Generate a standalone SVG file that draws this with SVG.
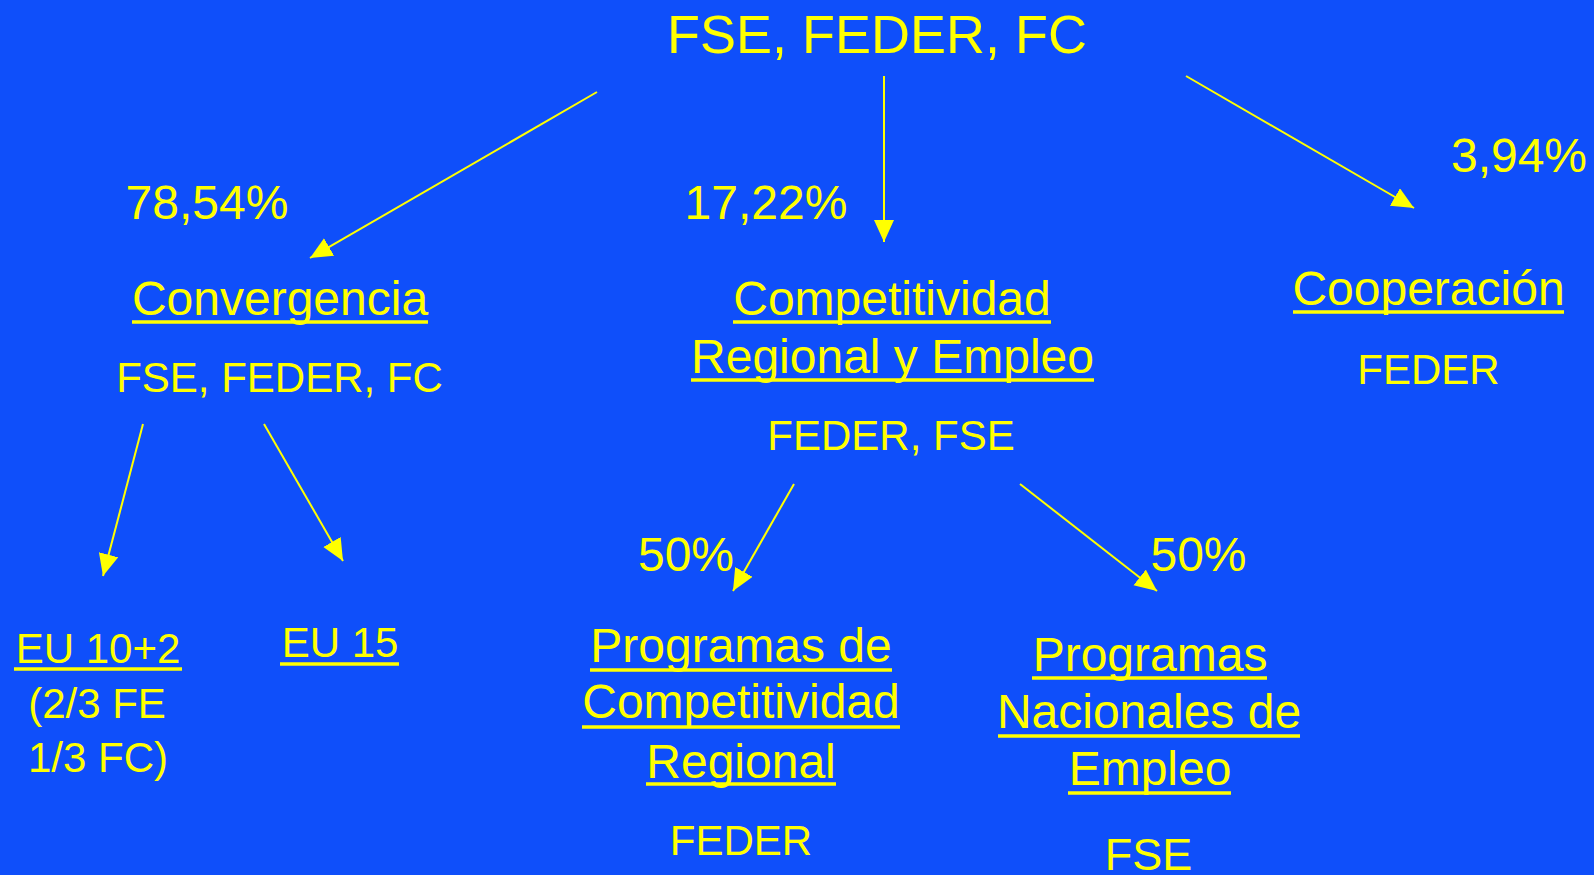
<svg xmlns="http://www.w3.org/2000/svg" width="1594" height="875" viewBox="0 0 1594 875">
<style>
text{font-family:"Liberation Sans",Arial,sans-serif;fill:#ffff00;text-anchor:middle}
.t{font-size:54px}
.h{font-size:48px}
.s{font-size:42px}
.u{stroke:#ffff00;stroke-width:3.5}
.c{stroke:#ffff00;stroke-width:2;fill:none;marker-end:url(#ah)}
</style>
<defs>
<marker id="ah" markerUnits="userSpaceOnUse" markerWidth="24" markerHeight="22" refX="22" refY="10" orient="auto">
<path d="M0,0 L22,10 L0,20 Z" fill="#ffff00"/>
</marker>
</defs>
<rect width="1594" height="875" fill="#0f4ffa"/>
<g id="connectors">
<line class="c" x1="597" y1="92" x2="310" y2="258"/>
<line class="c" x1="884" y1="76" x2="884" y2="242"/>
<line class="c" x1="1186" y1="76" x2="1414" y2="208"/>
<line class="c" x1="143" y1="424" x2="103" y2="576"/>
<line class="c" x1="264" y1="424" x2="343" y2="561"/>
<line class="c" x1="794" y1="484" x2="733" y2="591"/>
<line class="c" x1="1020" y1="484" x2="1157" y2="591"/>
</g>
<g id="root"><text class="t" x="877" y="53">FSE, FEDER, FC</text></g>
<g id="pct-conv"><text class="h" x="207" y="219">78,54%</text></g>
<g id="pct-comp"><text class="h" x="766" y="219">17,22%</text></g>
<g id="pct-coop"><text class="h" x="1519" y="172">3,94%</text></g>
<g id="convergencia">
<text class="h" x="280" y="315">Convergencia</text>
<line class="u" x1="132" y1="322" x2="428" y2="322"/>
<text class="s" x="279.5" y="392">FSE, FEDER, FC</text>
</g>
<g id="competitividad">
<text class="h" x="892" y="315">Competitividad</text>
<line class="u" x1="733" y1="322" x2="1051" y2="322"/>
<text class="h" x="892.5" y="373">Regional y Empleo</text>
<line class="u" x1="691" y1="380" x2="1094" y2="380"/>
<text class="s" x="891" y="450">FEDER, FSE</text>
</g>
<g id="cooperacion">
<text class="h" x="1428.5" y="305">Cooperación</text>
<line class="u" x1="1293" y1="312" x2="1564" y2="312"/>
<text class="s" x="1428.5" y="384">FEDER</text>
</g>
<g id="eu12">
<text class="s" x="98" y="663">EU 10+2</text>
<line class="u" x1="14" y1="669" x2="182" y2="669"/>
<text class="s" x="97" y="718">(2/3 FE</text>
<text class="s" x="98" y="772">1/3 FC)</text>
</g>
<g id="eu15">
<text class="s" x="340" y="657">EU 15</text>
<line class="u" x1="280" y1="664" x2="399" y2="664"/>
</g>
<g id="pct-50a"><text class="h" x="686" y="571">50%</text></g>
<g id="pct-50b"><text class="h" x="1198.5" y="571">50%</text></g>
<g id="prog-comp">
<text class="h" x="741" y="662">Programas de</text>
<line class="u" x1="590" y1="670" x2="892" y2="670"/>
<text class="h" x="741" y="718">Competitividad</text>
<line class="u" x1="582" y1="727" x2="900" y2="727"/>
<text class="h" x="741" y="778">Regional</text>
<line class="u" x1="646" y1="784" x2="836" y2="784"/>
<text class="s" x="741" y="855">FEDER</text>
</g>
<g id="prog-empleo">
<text class="h" x="1150" y="671">Programas</text>
<line class="u" x1="1032" y1="678" x2="1267" y2="678"/>
<text class="h" x="1149" y="728">Nacionales de</text>
<line class="u" x1="998" y1="736" x2="1300" y2="736"/>
<text class="h" x="1150" y="785">Empleo</text>
<line class="u" x1="1068" y1="793" x2="1231" y2="793"/>
<text x="1148.5" y="870" style="font-size:45px">FSE</text>
</g>
</svg>
